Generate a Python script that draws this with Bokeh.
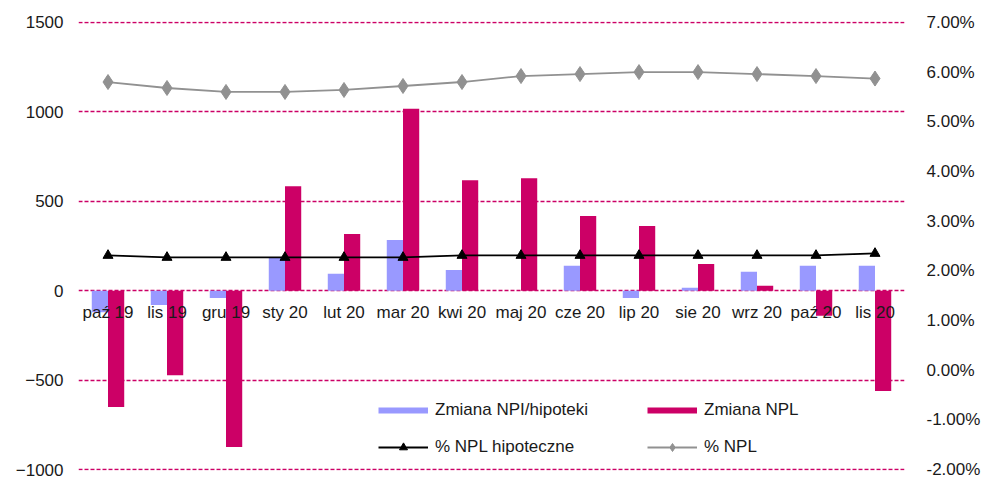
from bokeh.plotting import figure
from bokeh.models import (Range1d, FactorRange, LinearAxis, FixedTicker, NumeralTickFormatter,
                          Legend, LegendItem, ColumnDataSource)
from bokeh.transform import dodge
from bokeh.core.properties import value
from bokeh.embed import file_html
from bokeh.resources import INLINE

months = ["paź 19", "lis 19", "gru 19", "sty 20", "lut 20", "mar 20", "kwi 20",
          "maj 20", "cze 20", "lip 20", "sie 20", "wrz 20", "paź 20", "lis 20"]
zmiana_npl_hip = [-120, -80, -40, 185, 95, 284, 116, 0, 140, -40, 17, 106, 140, 140]
zmiana_npl = [-650, -472, -873, 584, 317, 1017, 618, 629, 418, 362, 150, 28, -140, -560]
pct_npl_hip = [0.0231, 0.0227, 0.0227, 0.0227, 0.0227, 0.0227, 0.0231,
               0.0231, 0.0231, 0.0231, 0.0231, 0.0231, 0.0231, 0.0235]
pct_npl = [0.0580, 0.0568, 0.0560, 0.0560, 0.0564, 0.0572, 0.0580,
           0.0592, 0.0596, 0.0600, 0.0600, 0.0596, 0.0592, 0.0587]
left_ticks = [-1000, -500, 0, 500, 1000, 1500]
right_ticks = [-0.02, -0.01, 0.0, 0.01, 0.02, 0.03, 0.04, 0.05, 0.06, 0.07]

BLUE = "#9999FF"
MAG = "#CC0066"
GRAY = "#919191"
TXT = "#1a1a1a"
FONT = "Liberation Sans"
FS = "17px"

src = ColumnDataSource(dict(m=months, a=zmiana_npl_hip, b=zmiana_npl,
                            h=pct_npl_hip, n=pct_npl, z=[0] * len(months)))

# ranges padded a hair so the outermost grid lines are drawn
pad = 5
p = figure(width=983, height=479, output_backend="svg", toolbar_location=None,
           x_range=FactorRange(factors=months),
           y_range=Range1d(left_ticks[0] - pad, left_ticks[-1] + pad),
           min_border_left=78, min_border_right=78, min_border_top=21, min_border_bottom=9)
p.outline_line_color = None
rpad = pad / (left_ticks[-1] - left_ticks[0]) * (right_ticks[-1] - right_ticks[0])
p.extra_y_ranges = {"pct": Range1d(right_ticks[0] - rpad, right_ticks[-1] + rpad)}

# axes
p.xaxis.visible = False
p.xgrid.visible = False
yl = p.yaxis[0]
yl.ticker = FixedTicker(ticks=left_ticks)
ya = LinearAxis(y_range_name="pct", ticker=FixedTicker(ticks=right_ticks),
                formatter=NumeralTickFormatter(format="0.00%"))
p.add_layout(ya, "right")
for ax in (yl, ya):
    ax.axis_line_color = None
    ax.major_tick_line_color = None
    ax.minor_tick_line_color = None
    ax.major_tick_out = 0
    ax.major_tick_in = 0
    ax.major_label_text_font = FONT
    ax.major_label_text_font_size = FS
    ax.major_label_text_color = TXT
yl.major_label_standoff = 15
ya.major_label_standoff = 22

p.ygrid.ticker = FixedTicker(ticks=left_ticks)
p.ygrid.grid_line_color = MAG
p.ygrid.grid_line_dash = "4 2"
p.ygrid.grid_line_width = 1.5

# bars
p.vbar(x=dodge("m", -0.1375, range=p.x_range), top="a", bottom=0, width=0.275,
       source=src, fill_color=BLUE, line_color=None)
p.vbar(x=dodge("m", 0.1375, range=p.x_range), top="b", bottom=0, width=0.275,
       source=src, fill_color=MAG, line_color=None)

# category labels next to the zero line
p.text(x="m", y="z", text="m", source=src, text_align="center", text_baseline="middle",
       y_offset=22, text_font=value(FONT), text_font_size=FS, text_color=TXT)

# lines
lh = p.line(x="m", y="h", source=src, y_range_name="pct", line_color="black", line_width=1.8)
sh = p.scatter(x="m", y="h", source=src, y_range_name="pct", marker="triangle", size=10,
               fill_color="black", line_color="black")
ln = p.line(x="m", y="n", source=src, y_range_name="pct", line_color=GRAY, line_width=1.8)
sn = p.scatter(x="m", y="n", source=src, y_range_name="pct", marker="diamond", size=15,
               fill_color=GRAY, line_color=GRAY)

# legend-only swatches (nothing drawn in the plot)
nan = float("nan")
la = p.line(x=months[:2], y=[nan, nan], line_color=BLUE, line_width=6)
lb = p.line(x=months[:2], y=[nan, nan], line_color=MAG, line_width=6)

def mk_legend(items, loc):
    lg = Legend(items=items, location=loc, orientation="vertical",
                padding=0, margin=0, spacing=17, glyph_width=50, glyph_height=20,
                label_height=20, label_standoff=7, border_line_color=None,
                background_fill_alpha=0, label_text_font=FONT,
                label_text_font_size=FS, label_text_color=TXT)
    p.add_layout(lg)

mk_legend([LegendItem(label="Zmiana NPI/hipoteki", renderers=[la]),
           LegendItem(label="% NPL hipoteczne", renderers=[lh, sh])], (300, 13))
mk_legend([LegendItem(label="Zmiana NPL", renderers=[lb]),
           LegendItem(label="% NPL", renderers=[ln, sn])], (569, 13))

open("out.html", "w").write(file_html(p, INLINE))
